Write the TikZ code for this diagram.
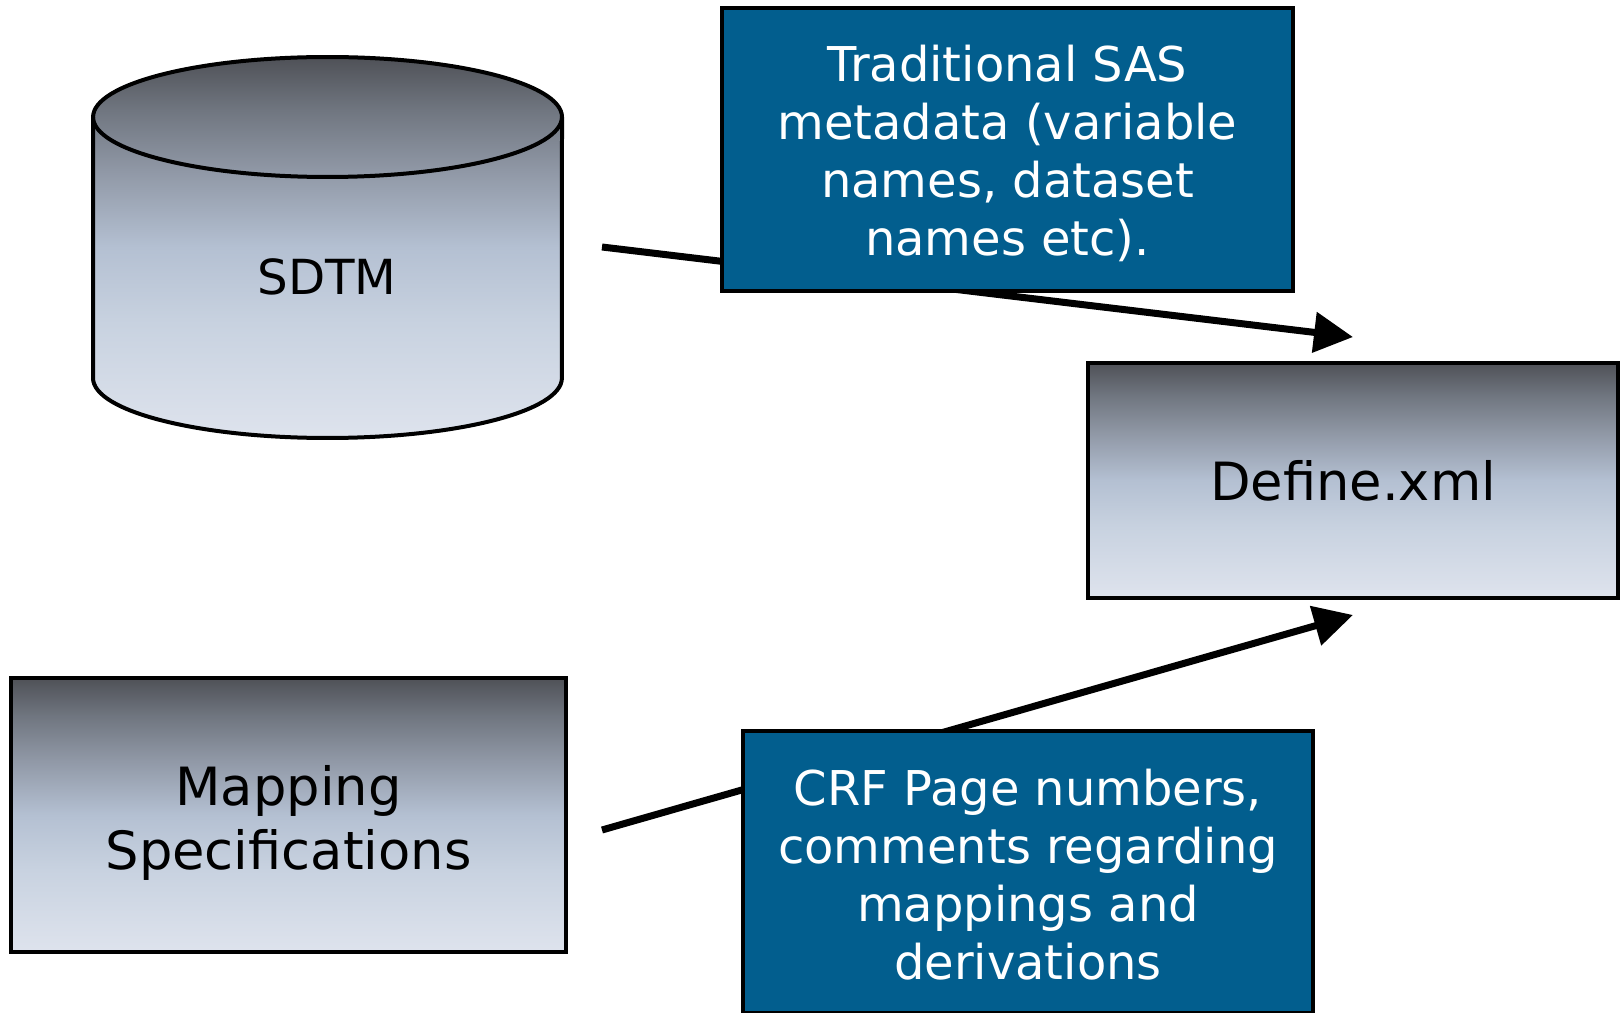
\documentclass[tikz,border=0pt]{standalone}
\usepackage{fontspec}
\setmainfont{DejaVu Sans}
\usetikzlibrary{arrows.meta}

\definecolor{notebg}{RGB}{2,94,142}
% steel gradient, light at the bottom, dark at the top
\pgfdeclareverticalshading{steel}{100bp}{%
color(0bp)=(rgb,255:red,222;green,227;blue,237);
color(25bp)=(rgb,255:red,222;green,227;blue,237);
color(40bp)=(rgb,255:red,200;green,210;blue,224);
color(50bp)=(rgb,255:red,180;green,192;blue,210);
color(60bp)=(rgb,255:red,144;green,152;blue,166);
color(68bp)=(rgb,255:red,112;green,118;blue,128);
color(75bp)=(rgb,255:red,79;green,81;blue,87);
color(100bp)=(rgb,255:red,79;green,81;blue,87)}
% taller first line pushes a block of text down
\newcommand{\lift}[1]{\rule{0pt}{#1}}

\begin{document}
\begin{tikzpicture}[x=0.02cm,y=0.02cm,
doc/.style={
draw,
line width=0.08cm,
shade,
shading=steel,
align=center,
inner sep=0pt,
font=\fontsize{30}{36.2}\selectfont,
},
note/.style={%
draw,
line width=0.08cm,
fill=notebg,
text=white,
align=center,
inner sep=0pt,
font=\fontsize{27.3}{33}\selectfont,
},
flow/.style={%
line width=0.14cm,
-{Triangle[length=0.78cm,width=0.79cm]},
}
]
\useasboundingbox(0,0)rectangle(1622,1012);

%sdtm store
\shade[shading=steel,draw,line width=0.08cm](93,895)--(93,634)
arc[start angle=180,end angle=360,x radius=4.69cm,y radius=1.2cm]--(562,895)
arc[start angle=0,end angle=180,x radius=4.69cm,y radius=1.2cm]--cycle;
\draw[line width=0.08cm](93,895)arc[start angle=180,end angle=360,x radius=4.69cm,y radius=1.2cm];
\node[font=\fontsize{27.5}{32}\selectfont](sdtm)at(327,735){SDTM};

\node[doc,minimum width=10.6cm,minimum height=4.7cm](defxml)at(1353,531.5){Define.xml};
\node[doc,minimum width=11.1cm,minimum height=5.48cm](mapspec)at(288.5,197){\lift{32pt}Mapping\\Specifications};

%arrows run under the notes
\coordinate(sdtmout)at(602,765);
\coordinate(mapout)at(602,182);
\coordinate(defin1)at([yshift=0.48cm]defxml.north);
\coordinate(defin2)at([yshift=-0.3cm]defxml.south);
\draw[flow](sdtmout)--(defin1);
\draw[flow](mapout)--(defin2);

\node[note,minimum width=11.42cm,minimum height=5.66cm](tradmeta)at(1007.5,862.5){\lift{25.5pt}Traditional SAS\\metadata (variable\\names, dataset\\names etc).};
\node[note,minimum width=11.4cm,minimum height=5.64cm](crfnote)at(1028,140){\lift{24.2pt}CRF Page numbers,\\comments regarding\\mappings and\\derivations};

\end{tikzpicture}
\end{document}
